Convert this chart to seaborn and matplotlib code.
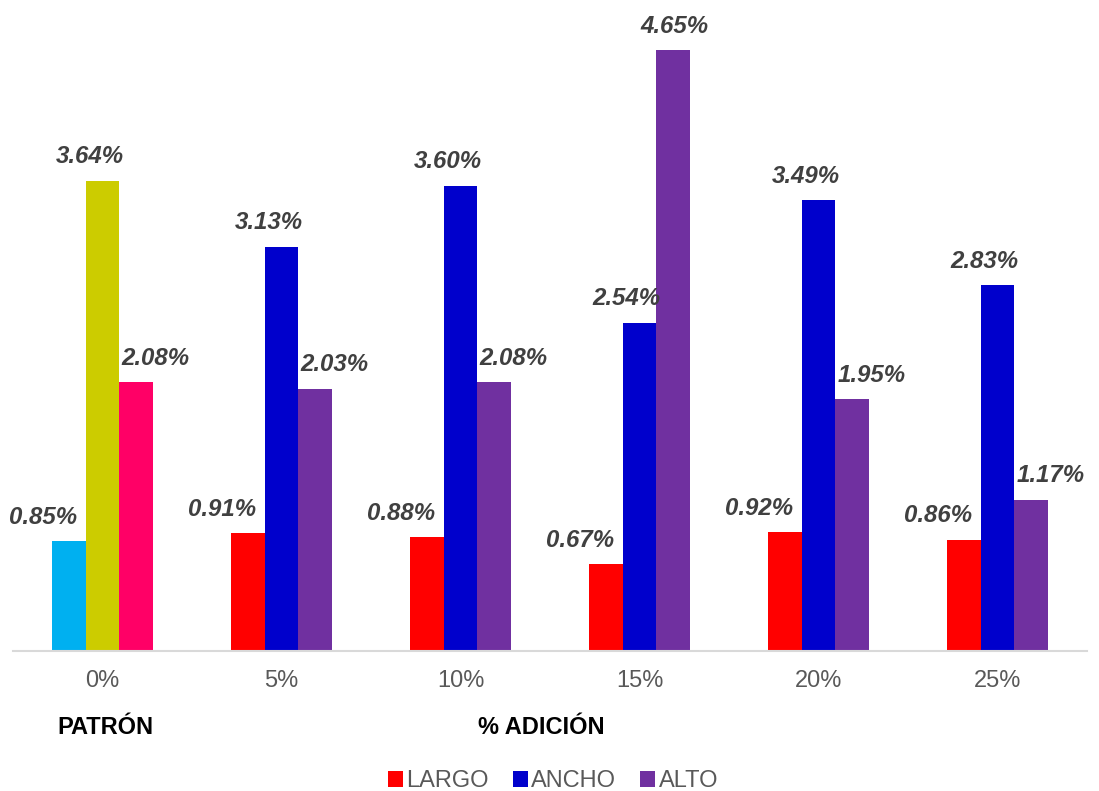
import matplotlib
matplotlib.use("Agg")
import matplotlib.pyplot as plt
from matplotlib.patches import Patch
import seaborn as sns
import pandas as pd

# Data: dimensional variation (%) per addition level
grupos = ["0%", "5%", "10%", "15%", "20%", "25%"]
medidas = ["LARGO", "ANCHO", "ALTO"]
largo = [0.85, 0.91, 0.88, 0.67, 0.92, 0.86]
ancho = [3.64, 3.13, 3.60, 2.54, 3.49, 2.83]
alto = [2.08, 2.03, 2.08, 4.65, 1.95, 1.17]

colores = {"LARGO": "#FF0000", "ANCHO": "#0000CC", "ALTO": "#7030A0"}
colores_patron = ["#00B0F0", "#CCCC00", "#FF0066"]

df = pd.DataFrame({
    "grupo": grupos * 3,
    "medida": ["LARGO"] * 6 + ["ANCHO"] * 6 + ["ALTO"] * 6,
    "valor": largo + ancho + alto,
})

sns.set_theme(style="white")
plt.rcParams["font.family"] = ["Liberation Sans", "DejaVu Sans"]

fig = plt.figure(figsize=(10.99, 7.91), dpi=100)
ax = fig.add_axes([13 / 1099, 1 - 651 / 791, 1074 / 1099, 646 / 791])

sns.barplot(data=df, x="grupo", y="valor", hue="medida", order=grupos,
            hue_order=medidas, palette=colores, width=0.56, saturation=1,
            errorbar=None, legend=False, linewidth=0, edgecolor="none", ax=ax)

# Reference group (0%) uses its own colours
for h, cont in enumerate(ax.containers):
    cont.patches[0].set_facecolor(colores_patron[h])

# Value labels above bars, shifted sideways per series
dx = [-26, -13, 20]
dx_especial = {(3, 2): 2}
for h, cont in enumerate(ax.containers):
    for g, bar in enumerate(cont.patches):
        val = bar.get_height()
        x = bar.get_x() + bar.get_width() / 2
        off = dx_especial.get((g, h), dx[h])
        ax.annotate(f"{val:.2f}%", (x, val), xytext=(off, 24),
                    textcoords="offset pixels", ha="center", va="center",
                    fontsize=17.3, fontweight="bold", fontstyle="italic",
                    color="#404040")

ax.set_xlim(-0.5, 5.5)
ax.set_ylim(0, 5)
ax.set_yticks([])
ax.set_xlabel("")
ax.set_ylabel("")
for s in ["top", "right", "left"]:
    ax.spines[s].set_visible(False)
ax.spines["bottom"].set_color("#D9D9D9")
ax.spines["bottom"].set_linewidth(1.5)
ax.tick_params(axis="x", length=0, pad=14, labelsize=17, labelcolor="#595959")

fig.text(105 / 1099, 1 - 727 / 791, "PATRÓN", ha="center", va="center",
         fontsize=17, fontweight="bold", color="black")
fig.text(541 / 1099, 1 - 727 / 791, "% ADICIÓN", ha="center", va="center",
         fontsize=17, fontweight="bold", color="black")

handles = [Patch(facecolor=colores[m], edgecolor="none", label=m) for m in medidas]
leg = fig.legend(handles=handles, loc="center", ncol=3, frameon=False,
                 bbox_to_anchor=(553 / 1099, 1 - 781 / 791), fontsize=17,
                 handlelength=0.65, handleheight=0.65, handletextpad=0.15,
                 columnspacing=1.0)
for t in leg.get_texts():
    t.set_color("#595959")

fig.savefig("out.png", dpi=100)
